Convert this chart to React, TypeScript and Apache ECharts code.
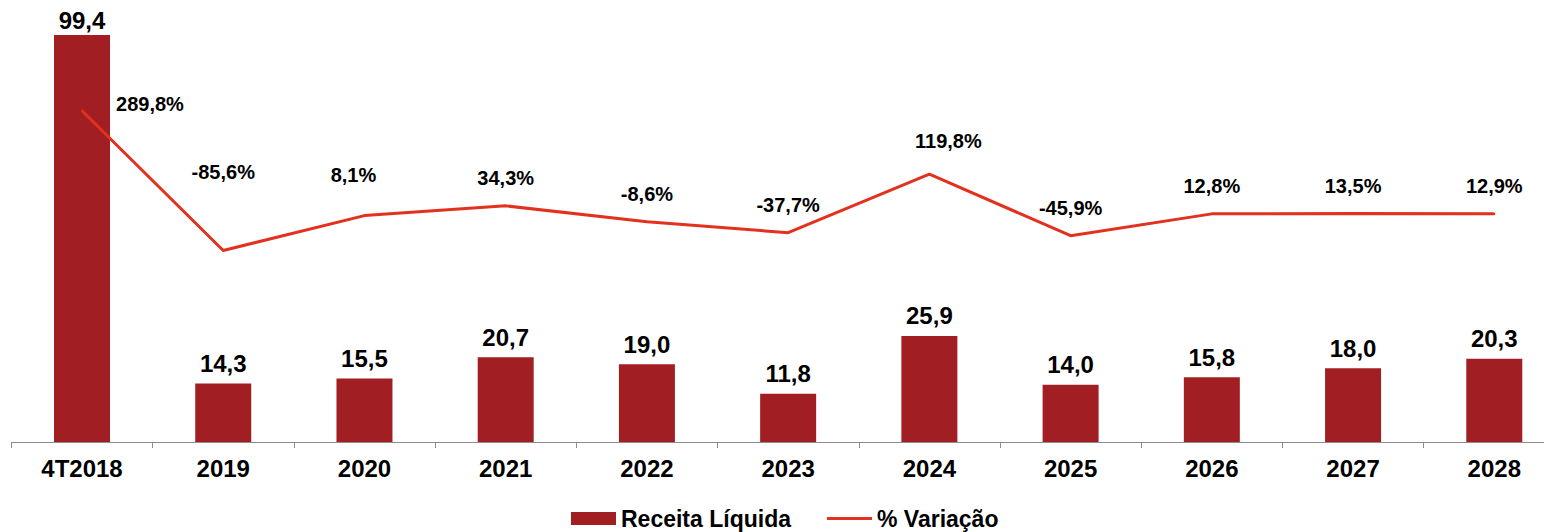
import React, { useEffect, useRef } from "react";
import * as echarts from "echarts";

const categories = ["4T2018", "2019", "2020", "2021", "2022", "2023", "2024", "2025", "2026", "2027", "2028"];
const receitaLiquida = [99.4, 14.3, 15.5, 20.7, 19.0, 11.8, 25.9, 14.0, 15.8, 18.0, 20.3];
const variacao = [289.8, -85.6, 8.1, 34.3, -8.6, -37.7, 119.8, -45.9, 12.8, 13.5, 12.9];

const seriesNames = ["Receita Líquida", "% Variação"];

const fmt = (v: number) => v.toFixed(1).replace(".", ",");

// label placement tweaks (style only)
const barLabelTweaks: Record<number, any> = {
  0: { distance: 3, lineHeight: 22 },
};
const pctLabelTweaks: Record<number, any> = {
  0: { position: "right", distance: 33, offset: [0, -7] },
  1: { distance: 68 },
  2: { distance: 30, offset: [-11, 0] },
  6: { distance: 22, offset: [19, 0] },
};

export default function App() {
  const ref = useRef<HTMLDivElement>(null);
  useEffect(() => {
    document.body.style.overflow = "hidden";
    if (!ref.current) return;
    const chart = echarts.init(ref.current, undefined, { renderer: "svg" });
    const font = "'Liberation Sans', Arial, sans-serif";
    chart.setOption({
      animation: false,
      textStyle: { fontFamily: font },
      grid: {
        left: 3.4,
        top: 24.5,
        width: 1553.5,
        height: 409.5,
        containLabel: false,
        outerBoundsMode: "none",
      },
      legend: {
        left: 563,
        top: 499,
        itemWidth: 45,
        itemHeight: 13,
        itemGap: 36,
        padding: 0,
        textStyle: { fontSize: 23, lineHeight: 22, fontWeight: "bold", color: "#000", fontFamily: font },
        data: [
          { name: seriesNames[0], icon: "rect" },
          { name: seriesNames[1], icon: "path://M0,0H47V3H0Z" },
        ],
      },
      xAxis: {
        type: "category",
        data: categories,
        axisLine: { lineStyle: { color: "#8c8c8c", width: 1 } },
        axisTick: { show: true, length: 6, lineStyle: { color: "#8c8c8c", width: 1 } },
        axisLabel: {
          fontSize: 24,
          fontWeight: "bold",
          color: "#000",
          margin: 14,
          fontFamily: font,
        },
      },
      yAxis: [
        { type: "value", min: 0, max: 100, show: false, splitLine: { show: false } },
        { type: "value", min: -600, max: 500, show: false, splitLine: { show: false } },
      ],
      series: [
        {
          name: seriesNames[0],
          type: "bar",
          data: receitaLiquida.map((v, i) => (barLabelTweaks[i] ? { value: v, label: barLabelTweaks[i] } : v)),
          barWidth: 56,
          itemStyle: { color: "#a11f22" },
          label: {
            show: true,
            position: "top",
            distance: 8,
            fontSize: 24,
            fontWeight: "bold",
            color: "#000",
            fontFamily: font,
            formatter: (p: any) => fmt(p.value),
          },
        },
        {
          name: seriesNames[1],
          type: "line",
          yAxisIndex: 1,
          data: variacao.map((v, i) => (pctLabelTweaks[i] ? { value: v, label: pctLabelTweaks[i] } : v)),
          color: "#e2311e",
          lineStyle: { width: 3, color: "#e2311e" },
          itemStyle: { color: "#e2311e" },
          symbol: "circle",
          symbolSize: 2,
          showSymbol: true,
          label: {
            show: true,
            position: "top",
            distance: 17,
            fontSize: 20,
            fontWeight: "bold",
            color: "#000",
            fontFamily: font,
            formatter: (p: any) => fmt(p.value) + "%",
          },
        },
      ],
    });
    return () => chart.dispose();
  }, []);
  return <div ref={ref} style={{ width: 1544, height: 524 }} />;
}
